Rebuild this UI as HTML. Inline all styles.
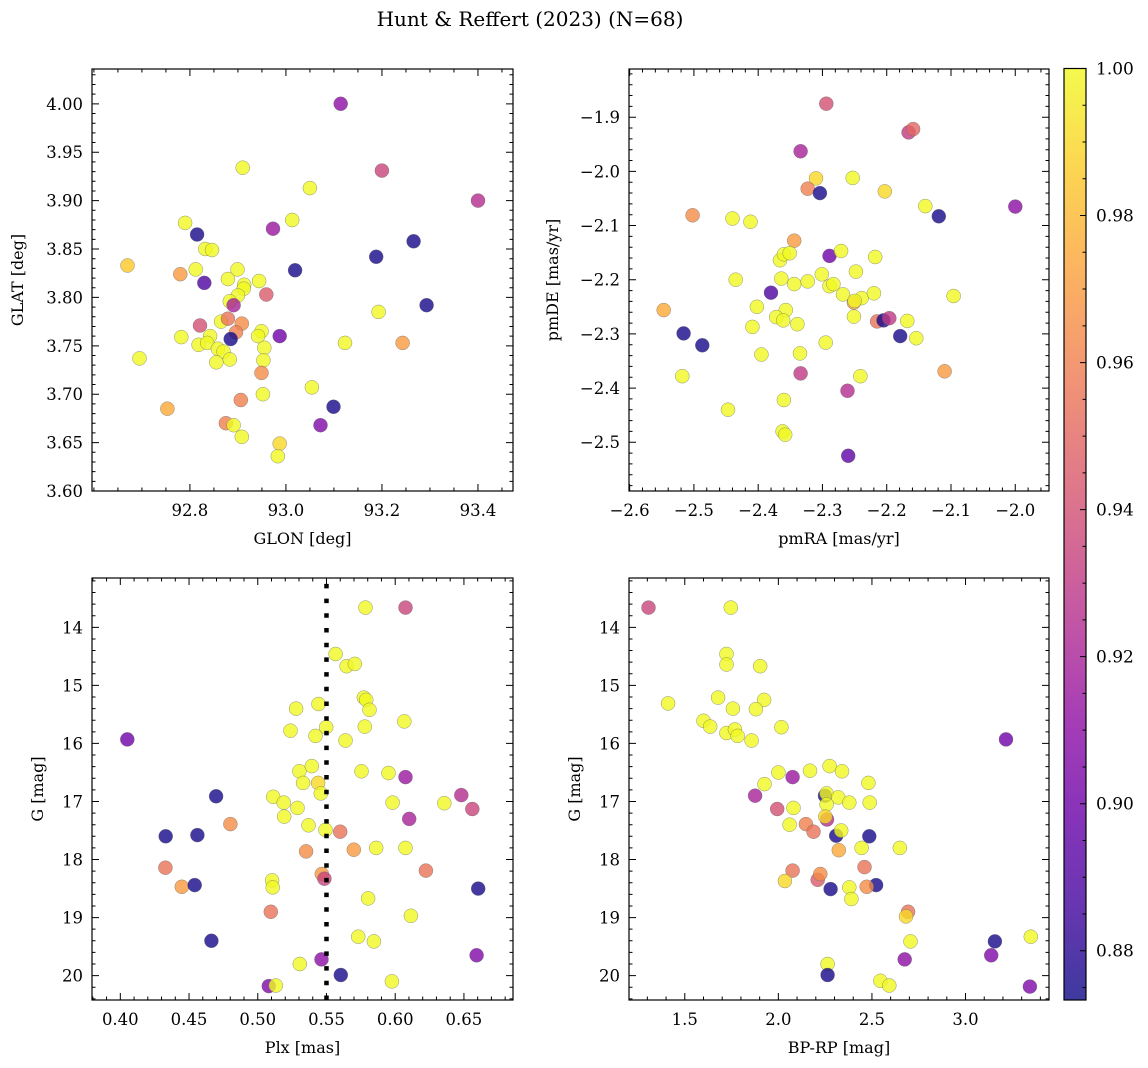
<!DOCTYPE html>
<html><head><meta charset="utf-8"><style>
html,body{margin:0;padding:0;background:#fff;}
svg{display:block;font-family:"DejaVu Serif","Liberation Serif",serif;}
</style></head><body>
<svg id="fig" width="1148" height="1068" viewBox="0 0 1148 1068" xmlns="http://www.w3.org/2000/svg">
<rect width="1148" height="1068" fill="#fff"/>
<text x="530" y="26" font-size="20" text-anchor="middle">Hunt &amp; Reffert (2023) (N=68)</text>
<defs>
<linearGradient id="plasma" x1="0" y1="1" x2="0" y2="0">
<stop offset="0" stop-color="#0d0887"/><stop offset="0.1" stop-color="#41049d"/><stop offset="0.2" stop-color="#6a00a8"/><stop offset="0.3" stop-color="#8f0da4"/><stop offset="0.4" stop-color="#b12a90"/><stop offset="0.5" stop-color="#cc4778"/><stop offset="0.6" stop-color="#e16462"/><stop offset="0.7" stop-color="#f2844b"/><stop offset="0.8" stop-color="#fca636"/><stop offset="0.9" stop-color="#fcce25"/><stop offset="1" stop-color="#f0f921"/>
</linearGradient>
</defs>
</svg>
<script>
// ---- Panel 1: GLON / GLAT ----
const p1Glon=[93.114,92.910,93.200,93.050,93.400,93.013,92.790,92.973,92.815,92.832,92.846,93.266,93.188,92.670,92.780,92.812,93.019,92.830,92.899,92.879,92.913,92.944,92.912,92.900,92.883,92.959,92.891,93.293,93.193,92.865,92.879,92.908,92.821,92.896,92.949,92.942,92.987,92.885,92.782,92.842,92.818,92.836,92.858,92.870,92.955,93.123,93.243,92.695,92.855,92.883,92.953,92.949,93.054,92.952,92.906,93.099,92.753,93.072,92.875,92.891,92.908,92.987,92.983];
const p1Glat=[4.000,3.934,3.931,3.913,3.900,3.880,3.877,3.871,3.865,3.850,3.849,3.858,3.842,3.833,3.824,3.829,3.828,3.815,3.829,3.819,3.813,3.817,3.809,3.802,3.796,3.803,3.792,3.792,3.785,3.775,3.778,3.773,3.771,3.764,3.765,3.760,3.760,3.757,3.759,3.760,3.751,3.753,3.747,3.744,3.748,3.753,3.753,3.737,3.733,3.736,3.735,3.722,3.707,3.700,3.694,3.687,3.685,3.668,3.670,3.668,3.656,3.649,3.636];
const p1Prob=[0.91,1,0.935,1,0.925,1,1,0.915,0.875,1,1,0.875,0.875,0.985,0.97,1,0.875,0.89,1,1,1,1,1,1,1,0.945,0.92,0.875,1,1,0.955,0.965,0.94,0.96,1,1,0.9,0.875,1,1,1,1,1,1,1,1,0.97,1,1,1,1,0.965,1,1,0.96,0.875,0.975,0.905,0.96,1,1,0.99,1];
const p1XTicks=[92.8,93.0,93.2,93.4];
const p1YTicks=[3.60,3.65,3.70,3.75,3.80,3.85,3.90,3.95,4.00];
// ---- Panel 2: pmRA / pmDE ----
const p2Pmra=[-2.294,-2.166,-2.159,-2.334,-2.310,-2.323,-2.304,-2.253,-2.203,-2.140,-2.119,-2.000,-2.502,-2.440,-2.412,-2.344,-2.366,-2.360,-2.351,-2.289,-2.271,-2.218,-2.248,-2.435,-2.364,-2.344,-2.323,-2.301,-2.289,-2.283,-2.380,-2.268,-2.239,-2.251,-2.250,-2.220,-2.096,-2.547,-2.402,-2.357,-2.372,-2.361,-2.339,-2.251,-2.409,-2.215,-2.205,-2.196,-2.168,-2.516,-2.487,-2.179,-2.154,-2.295,-2.395,-2.335,-2.518,-2.334,-2.241,-2.110,-2.261,-2.360,-2.447,-2.362,-2.358,-2.260];
const p2Pmde=[-1.875,-1.928,-1.922,-1.963,-2.013,-2.032,-2.040,-2.012,-2.037,-2.064,-2.083,-2.065,-2.081,-2.087,-2.093,-2.128,-2.164,-2.153,-2.151,-2.156,-2.147,-2.158,-2.185,-2.200,-2.198,-2.208,-2.203,-2.190,-2.212,-2.208,-2.224,-2.227,-2.234,-2.242,-2.239,-2.225,-2.230,-2.256,-2.250,-2.256,-2.269,-2.275,-2.282,-2.268,-2.287,-2.277,-2.275,-2.271,-2.276,-2.299,-2.321,-2.304,-2.308,-2.316,-2.338,-2.336,-2.378,-2.373,-2.378,-2.369,-2.405,-2.422,-2.440,-2.480,-2.486,-2.525];
const p2Prob=[0.94,0.93,0.95,0.92,0.99,0.96,0.875,1,0.99,1,0.875,0.91,0.965,1,1,0.97,1,1,1,0.9,1,1,1,1,1,1,1,1,1,1,0.89,1,1,0.97,1,1,1,0.975,1,1,1,1,1,1,1,0.955,0.875,0.93,1,0.875,0.875,0.875,1,1,1,1,1,0.93,1,0.97,0.925,1,1,1,1,0.895];
const p2XTicks=[-2.6,-2.5,-2.4,-2.3,-2.2,-2.1,-2.0];
const p2YTicks=[-2.5,-2.4,-2.3,-2.2,-2.1,-2.0,-1.9];
// ---- Panel 3: Plx / G ----
const p3Plx=[0.5784,0.6075,0.5566,0.5646,0.5706,0.5772,0.5789,0.5813,0.5279,0.5442,0.6066,0.5238,0.5498,0.5420,0.5779,0.5638,0.4051,0.5303,0.5393,0.5755,0.5951,0.6075,0.5330,0.5439,0.5459,0.4697,0.5112,0.5189,0.5289,0.5192,0.5981,0.6357,0.6481,0.6561,0.6102,0.4801,0.5369,0.5493,0.5600,0.4330,0.4561,0.5352,0.5699,0.5862,0.6075,0.4328,0.6223,0.5466,0.5485,0.5104,0.5109,0.4447,0.4541,0.6604,0.5803,0.5095,0.6114,0.5731,0.5845,0.4663,0.6592,0.5464,0.5306,0.5604,0.5976,0.5080,0.5131];
const p3G=[13.66,13.66,14.46,14.67,14.63,15.21,15.25,15.42,15.40,15.32,15.62,15.78,15.72,15.87,15.71,15.95,15.93,16.48,16.39,16.48,16.51,16.58,16.68,16.68,16.86,16.91,16.92,17.02,17.11,17.26,17.02,17.03,16.89,17.13,17.30,17.39,17.41,17.49,17.52,17.60,17.58,17.86,17.83,17.80,17.80,18.14,18.19,18.25,18.33,18.36,18.48,18.47,18.44,18.50,18.67,18.90,18.97,19.33,19.41,19.40,19.65,19.72,19.80,19.99,20.10,20.18,20.17];
const p3Prob=[1,0.935,1,1,1,1,1,1,1,1,1,1,1,1,1,1,0.9,1,1,1,1,0.915,1,0.99,1,0.875,1,1,1,1,1,1,0.925,0.935,0.92,0.965,1,1,0.955,0.875,0.875,0.965,0.97,1,1,0.955,0.955,0.97,0.935,1,1,0.97,0.875,0.875,1,0.955,1,1,1,0.875,0.905,0.91,1,0.875,1,0.905,1];
const p3XTicks=[0.40,0.45,0.50,0.55,0.60,0.65];
const gTicks=[14,15,16,17,18,19,20];
const plxCut=0.55;
// ---- Panel 4: BP-RP / G ----
const p4Bprp=[1.306,1.746,1.723,1.723,1.903,1.411,1.678,1.757,1.924,1.880,1.600,1.636,1.723,1.768,1.782,1.857,2.016,3.216,2.000,2.076,2.169,2.274,2.340,2.481,1.926,1.876,2.249,2.258,2.320,2.379,2.488,2.258,1.994,2.081,2.260,2.251,2.060,2.147,2.188,2.309,2.336,2.486,2.323,2.445,2.649,2.076,2.460,2.210,2.224,2.035,2.279,2.379,2.390,2.522,2.472,2.693,2.682,2.706,3.349,3.157,3.137,2.675,2.263,2.263,2.545,2.593,3.344];
const p4G=[13.66,13.66,14.46,14.64,14.67,15.31,15.21,15.40,15.25,15.41,15.61,15.71,15.82,15.76,15.87,15.95,15.72,15.93,16.50,16.58,16.47,16.39,16.48,16.68,16.70,16.90,16.90,16.86,16.93,17.02,17.02,17.05,17.13,17.11,17.31,17.26,17.40,17.39,17.52,17.59,17.50,17.60,17.84,17.80,17.80,18.19,18.13,18.35,18.25,18.37,18.51,18.48,18.68,18.44,18.47,18.90,18.98,19.41,19.33,19.41,19.65,19.72,19.80,19.99,20.09,20.17,20.19];
const p4Prob=[0.935,1,1,1,1,1,1,1,1,1,1,1,1,1,1,1,1,0.9,1,0.915,1,1,1,1,1,0.92,0.875,1,1,1,1,1,0.94,1,0.925,0.99,1,0.96,0.955,0.875,1,0.875,0.975,1,1,0.955,0.955,0.945,0.965,0.99,0.875,1,1,0.875,0.965,0.955,0.99,1,1,0.875,0.905,0.91,1,0.875,1,1,0.905];
const p4XTicks=[1.5,2.0,2.5,3.0];
// ---- Colorbar ----
const cbTicks=[0.88,0.90,0.92,0.94,0.96,0.98,1.00];
const cbMin=0.8733, cbMax=1.0;

const NS="http://www.w3.org/2000/svg";
const svg=document.getElementById('fig');
const stops=[[13,8,135],[65,4,157],[106,0,168],[143,13,164],[177,42,144],[204,71,120],[225,100,98],[242,132,75],[252,166,54],[252,206,37],[240,249,33]];
function plasma(p){let t=(p-cbMin)/(cbMax-cbMin);t=Math.max(0,Math.min(1,t))*10;const i=Math.min(9,Math.floor(t)),f=t-i;const a=stops[i],b=stops[i+1];return 'rgb('+a.map((v,k)=>Math.round(v+(b[k]-v)*f)).join(',')+')';}
function mk(tag,attrs,parent){const e=document.createElementNS(NS,tag);for(const k in attrs)e.setAttribute(k,attrs[k]);(parent||svg).appendChild(e);return e;}
function fmt(v,d){const s=Math.abs(v).toFixed(d);return (v<0?'\u2212':'')+s;}

function panel(o){
  const g=mk('g',{});
  
  
  const sx=v=>o.x0+(v-o.xmin)/(o.xmax-o.xmin)*o.w;
  const sy=v=>o.y0+(o.ytop-v)/(o.ytop-o.ybot)*o.h;
  for(let i=0;i<o.xs.length;i++){
    const c=mk('circle',{cx:sx(o.xs[i]).toFixed(1),cy:sy(o.ys[i]).toFixed(1),r:7,fill:plasma(o.ps[i]),'fill-opacity':0.8,stroke:'#666','stroke-opacity':0.7,'stroke-width':0.5},g);
    
    
  }
  if(o.vline!==undefined){
    const l=mk('line',{x1:sx(o.vline),x2:sx(o.vline),y1:o.y0+o.h,y2:o.y0,stroke:'#000','stroke-width':4.5,'stroke-dasharray':'4.5,10.2'},g);
    
    
  }
  const f=mk('rect',{x:o.x0,y:o.y0,width:o.w,height:o.h,fill:'none',stroke:'#000','stroke-width':1.2},g);
  
  
  let tk='';
  const xa=Math.min(o.xmin,o.xmax),xb=Math.max(o.xmin,o.xmax);
  for(let v=Math.ceil(xa/o.xminor-1e-6)*o.xminor;v<=xb+1e-9;v+=o.xminor){const X=sx(v);tk+=`M${X} ${o.y0+o.h}v-3.5M${X} ${o.y0}v3.5`;}
  const ya=Math.min(o.ytop,o.ybot),yb=Math.max(o.ytop,o.ybot);
  for(let v=Math.ceil(ya/o.yminor-1e-6)*o.yminor;v<=yb+1e-9;v+=o.yminor){const Y=sy(v);tk+=`M${o.x0} ${Y}h3.5M${o.x0+o.w} ${Y}h-3.5`;}
  for(const v of o.xt){const X=sx(v);tk+=`M${X} ${o.y0+o.h}v-7M${X} ${o.y0}v7`;}
  for(const v of o.yt){const Y=sy(v);tk+=`M${o.x0} ${Y}h7M${o.x0+o.w} ${Y}h-7`;}
  mk('path',{d:tk,stroke:'#000','stroke-width':1,fill:'none'},g);
  for(const v of o.xt){const t=mk('text',{x:sx(v),y:o.y0+o.h+25,'font-size':16.5,'text-anchor':'middle'},g);t.textContent=fmt(v,o.xd);
    }
  for(const v of o.yt){const t=mk('text',{x:o.x0-9,y:sy(v)+6,'font-size':16.5,'text-anchor':'end'},g);t.textContent=fmt(v,o.yd);
    }
  const xl=mk('text',{x:o.x0+o.w/2,y:o.y0+o.h+53,'font-size':16,'text-anchor':'middle'},g);xl.textContent=o.xlabel;
  
  const yl=mk('text',{x:0,y:0,'font-size':16,'text-anchor':'middle',transform:`translate(${o.ylx},${o.y0+o.h/2}) rotate(-90)`},g);yl.textContent=o.ylabel;
  
}

panel({name:'panel-glon-glat',x0:92,y0:69,w:421,h:422,xmin:92.596,xmax:93.473,ytop:4.036,ybot:3.60,xs:p1Glon,ys:p1Glat,ps:p1Prob,xt:p1XTicks,yt:p1YTicks,xminor:0.05,yminor:0.01,xd:1,yd:2,xlabel:'GLON [deg]',ylabel:'GLAT [deg]',ylx:23});
panel({name:'panel-pmra-pmde',x0:629,y0:69,w:420,h:422,xmin:-2.601,xmax:-1.9475,ytop:-1.811,ybot:-2.590,xs:p2Pmra,ys:p2Pmde,ps:p2Prob,xt:p2XTicks,yt:p2YTicks,xminor:0.02,yminor:0.02,xd:1,yd:1,xlabel:'pmRA [mas/yr]',ylabel:'pmDE [mas/yr]',ylx:558});
panel({name:'panel-plx-g',x0:92,y0:578,w:421,h:422,xmin:0.3794,xmax:0.6857,ytop:13.15,ybot:20.42,xs:p3Plx,ys:p3G,ps:p3Prob,xt:p3XTicks,yt:gTicks,xminor:0.01,yminor:0.2,xd:2,yd:0,xlabel:'Plx [mas]',ylabel:'G [mag]',ylx:43,vline:plxCut});
panel({name:'panel-bprp-g',x0:629,y0:578,w:420,h:422,xmin:1.202,xmax:3.446,ytop:13.15,ybot:20.42,xs:p4Bprp,ys:p4G,ps:p4Prob,xt:p4XTicks,yt:gTicks,xminor:0.1,yminor:0.2,xd:1,yd:0,xlabel:'BP-RP [mag]',ylabel:'G [mag]',ylx:580});

(function(){
  const x0=1064,y0=68.5,w=22,h=931.5;
  const g=mk('g',{});
  
  
  mk('rect',{x:x0,y:y0,width:w,height:h,fill:'url(#plasma)','fill-opacity':0.8},g);
  mk('rect',{x:x0,y:y0,width:w,height:h,fill:'none',stroke:'#000','stroke-width':1.2},g);
  const sy=v=>y0+(cbMax-v)/(cbMax-cbMin)*h;
  let d='';
  for(let v=0.875;v<=1.0001;v+=0.005){d+=`M${x0+w} ${sy(v)}h-3.5`;}
  for(const v of cbTicks){d+=`M${x0+w} ${sy(v)}h-6`;}
  mk('path',{d:d,stroke:'#000','stroke-width':1},g);
  for(const v of cbTicks){const t=mk('text',{x:x0+w+10,y:sy(v)+6,'font-size':17},g);t.textContent=v.toFixed(2);
    }
})();
</script>
</body></html>
